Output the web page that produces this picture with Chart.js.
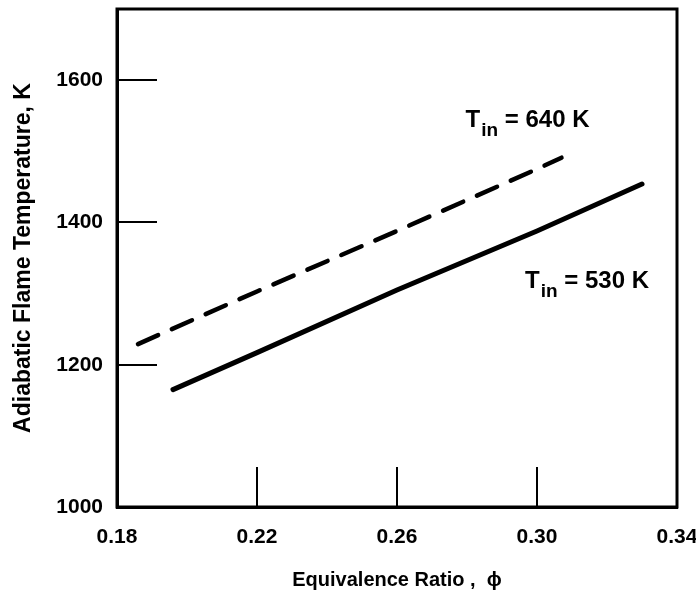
<!DOCTYPE html>
<html>
<head>
<meta charset="utf-8">
<script src="https://cdn.jsdelivr.net/npm/chart.js@4/dist/chart.umd.min.js"></script>
<style>
  html, body { margin: 0; padding: 0; background: #fff; }
  #wrap { width: 696px; height: 596px; }
</style>
</head>
<body>
<div id="wrap"><canvas id="flameChart"></canvas></div>
<script>
// equivalence ratio / adiabatic flame temperature
const phi640 = [0.186, 0.22, 0.26, 0.30, 0.307];
const temp640 = [1229, 1303, 1388, 1475, 1491];
const phi530 = [0.196, 0.22, 0.26, 0.30, 0.330];
const temp530 = [1165, 1217, 1305, 1388, 1454];

const xTicks = [0.18, 0.22, 0.26, 0.30, 0.34];
const yTicks = [1000, 1200, 1400, 1600];

const toPoints = (xs, ys) => xs.map((x, i) => ({ x: x, y: ys[i] }));

const fontFamily = "'Liberation Sans', Arial, sans-serif";
const tickFont = { family: fontFamily, size: 21, weight: "bold" };

// curve labels, T with subscript "in"
const curveLabels = [
    { x: 0.2796, y: 1534, value: " = 640 K" },
    { x: 0.2966, y: 1308, value: " = 530 K" },
];

// ticks padding feeds into layout padding, drop it so the plot keeps its size
const noScalePadding = (s) => {
    s.paddingTop = 0;
    s.paddingBottom = 0;
    s.paddingLeft = 0;
    s.paddingRight = 0;
};

const framePlugin = {
    id: "frame",
    afterDraw(chart) {
        const { ctx, chartArea, scales } = chart;
        ctx.save();
        ctx.strokeStyle = "#000";
        ctx.lineWidth = 3;
        ctx.strokeRect(chartArea.left, chartArea.top, chartArea.right - chartArea.left, chartArea.bottom - chartArea.top);

        ctx.fillStyle = "#000";
        ctx.textBaseline = "alphabetic";
        curveLabels.forEach((lab) => {
            let px = scales.x.getPixelForValue(lab.x);
            const py = scales.y.getPixelForValue(lab.y);
            ctx.font = "bold 24px " + fontFamily;
            ctx.fillText("T", px, py);
            px += ctx.measureText("T").width + 1;
            ctx.font = "bold 19px " + fontFamily;
            ctx.fillText("in", px, py + 9);
            px += ctx.measureText("in").width;
            ctx.font = "bold 24px " + fontFamily;
            ctx.fillText(lab.value, px, py);
        });
        ctx.restore();
    },
};

const data = {
    datasets: [
        {
            label: "T_in = 640 K",
            data: toPoints(phi640, temp640),
            borderColor: "#000",
            borderWidth: 4.5,
            borderDash: [22, 15],
            borderCapStyle: "round",
            pointRadius: 0,
            tension: 0,
        },
        {
            label: "T_in = 530 K",
            data: toPoints(phi530, temp530),
            borderColor: "#000",
            borderWidth: 5,
            borderCapStyle: "round",
            pointRadius: 0,
            tension: 0,
        },
    ],
};

const config = {
    type: "line",
    data: data,
    options: {
        responsive: true,
        maintainAspectRatio: false,
        animation: false,
        layout: { padding: { top: 9, right: 19, left: 0, bottom: 0 } },
        plugins: {
            legend: { display: false },
            tooltip: { enabled: false },
        },
        scales: {
            x: {
                type: "linear",
                min: 0.18,
                max: 0.34,
                afterBuildTicks: (s) => { s.ticks = xTicks.map((v) => ({ value: v })); },
                afterFit: (s) => { s.height = 89; noScalePadding(s); },
                grid: {
                    drawOnChartArea: false,
                    tickLength: -40,
                    color: "#000",
                    lineWidth: 2,
                },
                border: { color: "#000", width: 3 },
                ticks: {
                    color: "#000",
                    font: tickFont,
                    padding: 58,
                    callback: (v) => v.toFixed(2),
                },
                title: {
                    display: true,
                    text: "Equivalence Ratio ,  \u03d5",
                    color: "#000",
                    font: { family: fontFamily, size: 20, weight: "bold" },
                    padding: { top: 0, bottom: 4 },
                },
            },
            y: {
                min: 1000,
                max: 1700,
                afterBuildTicks: (s) => { s.ticks = yTicks.map((v) => ({ value: v })); },
                afterFit: (s) => { s.width = 117; noScalePadding(s); },
                grid: {
                    drawOnChartArea: false,
                    tickLength: -40,
                    color: "#000",
                    lineWidth: 2,
                },
                border: { color: "#000", width: 3 },
                ticks: {
                    color: "#000",
                    font: tickFont,
                    padding: 54,
                    callback: (v) => String(v),
                },
                title: {
                    display: true,
                    text: "Adiabatic Flame Temperature, K",
                    color: "#000",
                    font: { family: fontFamily, size: 23, weight: "bold" },
                    padding: { top: 10, bottom: 0 },
                },
            },
        },
    },
    plugins: [framePlugin],
};

new Chart(document.getElementById("flameChart"), config);
</script>
</body>
</html>
